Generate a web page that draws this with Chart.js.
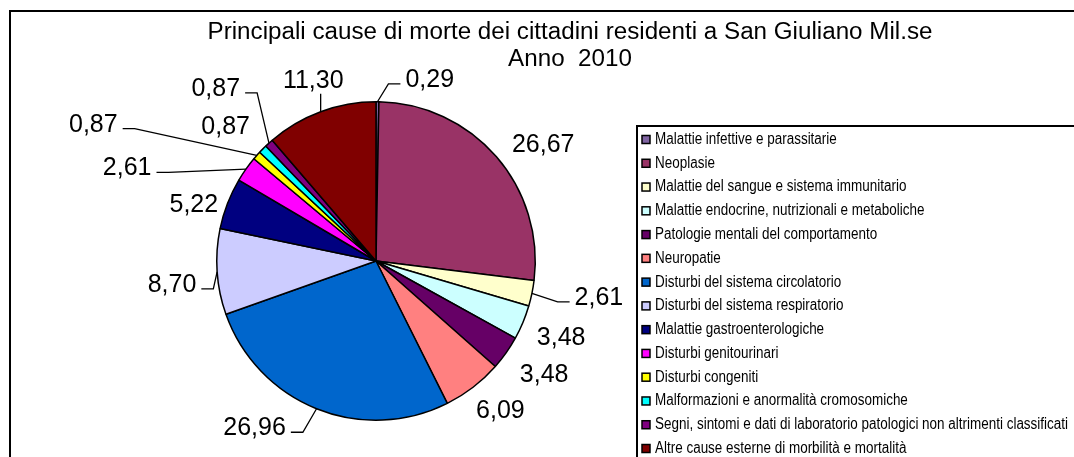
<!DOCTYPE html>
<html lang="it">
<head>
<meta charset="utf-8">
<title>Principali cause di morte - San Giuliano Mil.se 2010</title>
<script src="https://cdn.jsdelivr.net/npm/chart.js@4.4.1/dist/chart.umd.min.js"></script>
<style>
  html, body { margin: 0; padding: 0; background: #fff; }
  #wrap { width: 1074px; height: 457px; }
</style>
</head>
<body>
<div id="wrap"><canvas id="pieChart" width="1074" height="457"></canvas></div>
<script>
const titleLines = [
  "Principali cause di morte dei cittadini residenti a San Giuliano Mil.se",
  "Anno  2010",
];

const causes = [
  "Malattie infettive e parassitarie",
  "Neoplasie",
  "Malattie del sangue e sistema immunitario",
  "Malattie endocrine, nutrizionali e metaboliche",
  "Patologie mentali del comportamento",
  "Neuropatie",
  "Disturbi del sistema circolatorio",
  "Disturbi del sistema respiratorio",
  "Malattie gastroenterologiche",
  "Disturbi genitourinari",
  "Disturbi congeniti",
  "Malformazioni e anormalità cromosomiche",
  "Segni, sintomi e dati di laboratorio patologici non altrimenti classificati",
  "Altre cause esterne di morbilità e mortalità",
];

const percentages = [
  0.29, 26.67, 2.61, 3.48, 3.48, 6.09, 26.96, 8.7, 5.22, 2.61, 0.87, 0.87, 0.87, 11.3,
];

const sliceColors = [
  "#8064a2", "#993366", "#ffffcc", "#ccffff", "#660066", "#ff8080", "#0066cc",
  "#ccccff", "#000080", "#ff00ff", "#ffff00", "#00ffff", "#800080", "#800000",
];

// where each value label sits, as offset from the pie centre in radii
const labelOffsets = [
  [0.3375, -1.144], [1.05, -0.731], [1.4, 0.225], [1.1625, 0.475],
  [1.056, 0.7125], [0.781, 0.9375], [-0.7625, 1.044], [-1.281, 0.144],
  [-1.144, -0.356], [-1.5625, -0.5875], [-1.775, -0.8625], [-0.944, -0.85],
  [-1.006, -1.0875], [-0.394, -1.1375],
];
// leader line kind for each label: "side", "up" or none
const leaderKinds = [
  "side", "", "side", "", "", "", "side", "side", "", "side", "side", "", "side", "up",
];

const fmt = (v) => v.toFixed(2).replace(".", ",");

function squeezedText(ctx, text, x, y, sx) {
  ctx.save();
  ctx.translate(x, y);
  ctx.scale(sx, 1);
  ctx.fillText(text, 0, 0);
  ctx.restore();
}

const sheetPlugin = {
  id: "sheet",
  beforeDraw(chart) {
    const ctx = chart.ctx;
    ctx.save();
    ctx.fillStyle = "#fff";
    ctx.fillRect(0, 0, chart.width, chart.height);
    ctx.strokeStyle = "#000";
    ctx.lineWidth = 2;
    ctx.strokeRect(10, 11, chart.width + 20, chart.height + 20);
    ctx.restore();
  },
  afterDraw(chart) {
    const ctx = chart.ctx;
    ctx.save();

    // title, two lines
    ctx.fillStyle = "#000";
    ctx.textAlign = "center";
    ctx.textBaseline = "middle";
    ctx.font = "23px 'Liberation Sans', Arial, sans-serif";
    const tsx = 725 / ctx.measureText(titleLines[0]).width;
    squeezedText(ctx, titleLines[0], 570, 33, tsx);
    squeezedText(ctx, titleLines[1], 570, 60, tsx);

    // legend box
    ctx.lineWidth = 2;
    ctx.strokeStyle = "#000";
    ctx.strokeRect(637, 126, 500, 400);
    ctx.font = "16px 'Liberation Sans', Arial, sans-serif";
    ctx.textAlign = "left";
    const longest = causes.reduce((a, b) => (a.length > b.length ? a : b));
    const lsx = 413 / ctx.measureText(longest).width;
    causes.forEach((name, i) => {
      const y = 139.5 + i * 23.77;
      ctx.fillStyle = sliceColors[i];
      ctx.fillRect(642, y - 4, 8, 8);
      ctx.lineWidth = 1.5;
      ctx.strokeRect(642, y - 4, 8, 8);
      ctx.fillStyle = "#000";
      squeezedText(ctx, name, 655, y, lsx);
    });

    // value labels with leader lines
    const arcs = chart.getDatasetMeta(0).data;
    ctx.font = "25px 'Liberation Sans', Arial, sans-serif";
    ctx.textAlign = "center";
    ctx.lineWidth = 1.3;
    arcs.forEach((arc, i) => {
      const { x, y, outerRadius, startAngle, endAngle } = arc.getProps(
        ["x", "y", "outerRadius", "startAngle", "endAngle"],
        true,
      );
      const mid = (startAngle + endAngle) / 2;
      const ax = x + Math.cos(mid) * outerRadius;
      const ay = y + Math.sin(mid) * outerRadius;
      const lx = x + labelOffsets[i][0] * outerRadius;
      const ly = y + labelOffsets[i][1] * outerRadius;
      const text = fmt(percentages[i]);
      const w = ctx.measureText(text).width;
      ctx.fillStyle = "#000";
      ctx.fillText(text, lx, ly + 1);

      ctx.beginPath();
      if (leaderKinds[i] === "side") {
        const dir = lx > ax ? -1 : 1;
        const edge = lx + (dir * w) / 2;
        ctx.moveTo(ax, ay);
        ctx.lineTo(edge + dir * 17, ly + 5);
        ctx.lineTo(edge + dir * 5, ly + 5);
        ctx.stroke();
      } else if (leaderKinds[i] === "up") {
        ctx.moveTo(ax, ay);
        ctx.lineTo(ax, ly + 14);
        ctx.stroke();
      }
    });
    ctx.restore();
  },
};

new Chart(document.getElementById("pieChart"), {
  type: "pie",
  data: {
    labels: causes,
    datasets: [
      {
        data: percentages,
        backgroundColor: sliceColors,
        borderColor: "#000",
        borderWidth: 1.5,
      },
    ],
  },
  options: {
    responsive: false,
    animation: false,
    layout: {
      padding: { left: 216, right: 538, top: 101, bottom: 36 },
    },
    plugins: {
      legend: { display: false },
      title: { display: false },
      tooltip: { enabled: false },
    },
  },
  plugins: [sheetPlugin],
});
</script>
</body>
</html>
